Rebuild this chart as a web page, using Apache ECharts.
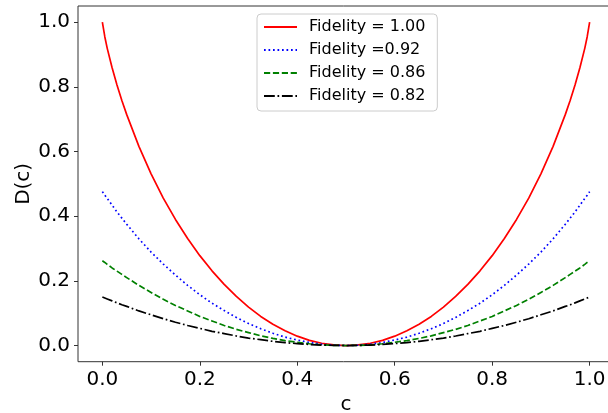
<!DOCTYPE html>
<html>
<head>
<meta charset="utf-8">
<script src="https://cdn.jsdelivr.net/npm/echarts@6/dist/echarts.min.js"></script>
<style>
html,body{margin:0;padding:0;background:#fff;}
#chart{width:608px;height:413px;}
</style>
</head>
<body>
<div id="chart"></div>
<script>
// c values (x axis)
var cValues = [0, 0.005, 0.01, 0.02, 0.03, 0.04, 0.05, 0.075, 0.1, 0.125, 0.15, 0.175, 0.2, 0.225, 0.25, 0.275, 0.3, 0.325, 0.35, 0.375, 0.4, 0.425, 0.45, 0.475, 0.5,
  0.525, 0.55, 0.575, 0.6, 0.625, 0.65, 0.675, 0.7, 0.725, 0.75, 0.775, 0.8, 0.825, 0.85, 0.875, 0.9, 0.925, 0.95, 0.96, 0.97, 0.98, 0.99, 0.995, 1];
// D(c) for each fidelity
var fid100 = [1.000, 0.955, 0.919, 0.859, 0.806, 0.758, 0.714, 0.616, 0.531, 0.456, 0.390, 0.331, 0.278, 0.231, 0.189, 0.152, 0.119, 0.090, 0.066, 0.046, 0.029, 0.016, 0.007, 0.002, 0.000,
  0.002, 0.007, 0.016, 0.029, 0.046, 0.066, 0.090, 0.119, 0.152, 0.189, 0.231, 0.278, 0.331, 0.390, 0.456, 0.531, 0.616, 0.714, 0.758, 0.806, 0.859, 0.919, 0.955, 1.000];
var fid092 = [0.476, 0.465, 0.455, 0.434, 0.413, 0.394, 0.375, 0.330, 0.289, 0.252, 0.218, 0.186, 0.157, 0.131, 0.108, 0.087, 0.068, 0.052, 0.038, 0.026, 0.017, 0.0095, 0.004, 0.001, 0.000,
  0.001, 0.004, 0.0095, 0.017, 0.026, 0.038, 0.052, 0.068, 0.087, 0.108, 0.131, 0.157, 0.186, 0.218, 0.252, 0.289, 0.330, 0.375, 0.394, 0.413, 0.434, 0.455, 0.465, 0.476];
var fid086 = [0.262, 0.257, 0.251, 0.240, 0.230, 0.220, 0.210, 0.186, 0.164, 0.143, 0.124, 0.107, 0.090, 0.076, 0.062, 0.050, 0.040, 0.030, 0.022, 0.015, 0.010, 0.0055, 0.002, 0.0006, 0.000,
  0.0006, 0.002, 0.0055, 0.010, 0.015, 0.022, 0.030, 0.040, 0.050, 0.062, 0.076, 0.090, 0.107, 0.124, 0.143, 0.164, 0.186, 0.210, 0.220, 0.230, 0.240, 0.251, 0.257, 0.262];
var fid082 = [0.150, 0.147, 0.144, 0.138, 0.132, 0.126, 0.121, 0.107, 0.095, 0.083, 0.072, 0.062, 0.053, 0.044, 0.037, 0.0295, 0.023, 0.018, 0.013, 0.009, 0.006, 0.0033, 0.0015, 0.0004, 0.000,
  0.0004, 0.0015, 0.0033, 0.006, 0.009, 0.013, 0.018, 0.023, 0.0295, 0.037, 0.044, 0.053, 0.062, 0.072, 0.083, 0.095, 0.107, 0.121, 0.126, 0.132, 0.138, 0.144, 0.147, 0.150];
var seriesNames = ['Fidelity = 1.00', 'Fidelity =0.92', 'Fidelity = 0.86', 'Fidelity = 0.82'];
var xTicks = [0, 0.2, 0.4, 0.6, 0.8, 1.0];
var yTicks = [0, 0.2, 0.4, 0.6, 0.8, 1.0];

function pairs(ys) { return cValues.map(function (c, i) { return [c, ys[i]]; }); }

var FONT = 'DejaVu Sans';
var chart = echarts.init(document.getElementById('chart'), null, {renderer: 'canvas'});
var lw = 1.7;
function mkSeries(name, ys, color, type) {
  return {
    name: name, type: 'line', data: pairs(ys), symbol: 'none',
    smooth: false, animation: false,
    lineStyle: {color: color, width: lw, type: type, cap: 'butt', join: 'round'},
    itemStyle: {color: color}
  };
}
chart.setOption({
  animation: false,
  backgroundColor: '#fff',
  grid: {left: 78, top: 6, width: 536, height: 355.7, show: true, borderColor: '#333', borderWidth: 1,
    backgroundColor: 'transparent', containLabel: false, outerBoundsMode: 'none'},
  xAxis: {
    type: 'value', min: -0.05, max: 1.05,
    name: 'c', nameLocation: 'middle', nameGap: 33, nameMoveOverlap: false,
    nameTextStyle: {fontFamily: FONT, fontSize: 20, color: '#000'},
    axisLine: {show: false, onZero: false},
    splitLine: {show: false},
    axisTick: {show: true, inside: false, length: 4, customValues: xTicks, lineStyle: {color: '#333', width: 1}},
    axisLabel: {customValues: xTicks, margin: 8, fontFamily: FONT, fontSize: 20, color: '#000',
      formatter: function (v) { return v.toFixed(1); }}
  },
  yAxis: {
    type: 'value', min: -0.05, max: 1.05,
    name: 'D(c)', nameLocation: 'middle', nameGap: 44, nameRotate: 90, nameMoveOverlap: false,
    nameTextStyle: {fontFamily: FONT, fontSize: 20, color: '#000'},
    axisLine: {show: false, onZero: false},
    splitLine: {show: false},
    axisTick: {show: true, inside: false, length: 4, customValues: yTicks, lineStyle: {color: '#333', width: 1}},
    axisLabel: {customValues: yTicks, margin: 8, fontFamily: FONT, fontSize: 20, color: '#000',
      formatter: function (v) { return v.toFixed(1); }}
  },
  legend: {
    orient: 'vertical', left: 257, top: 14,
    itemWidth: 33, itemHeight: 14, itemGap: 7,
    padding: [5, 12, 7, 6],
    borderColor: '#ccc', borderWidth: 1, borderRadius: 4,
    backgroundColor: 'rgba(255,255,255,0.8)',
    itemStyle: {opacity: 0},
    textStyle: {fontFamily: FONT, fontSize: 16, color: '#000', padding: [0, 0, 0, 7]},
    data: seriesNames
  },
  series: [
    mkSeries(seriesNames[0], fid100, '#ff0000', 'solid'),
    mkSeries(seriesNames[1], fid092, '#0000ff', [1.7, 2.8]),
    mkSeries(seriesNames[2], fid086, '#008000', [6.2, 2.7]),
    mkSeries(seriesNames[3], fid082, '#000000', [10.8, 2.7, 1.7, 2.7])
  ]
});
</script>
</body>
</html>
